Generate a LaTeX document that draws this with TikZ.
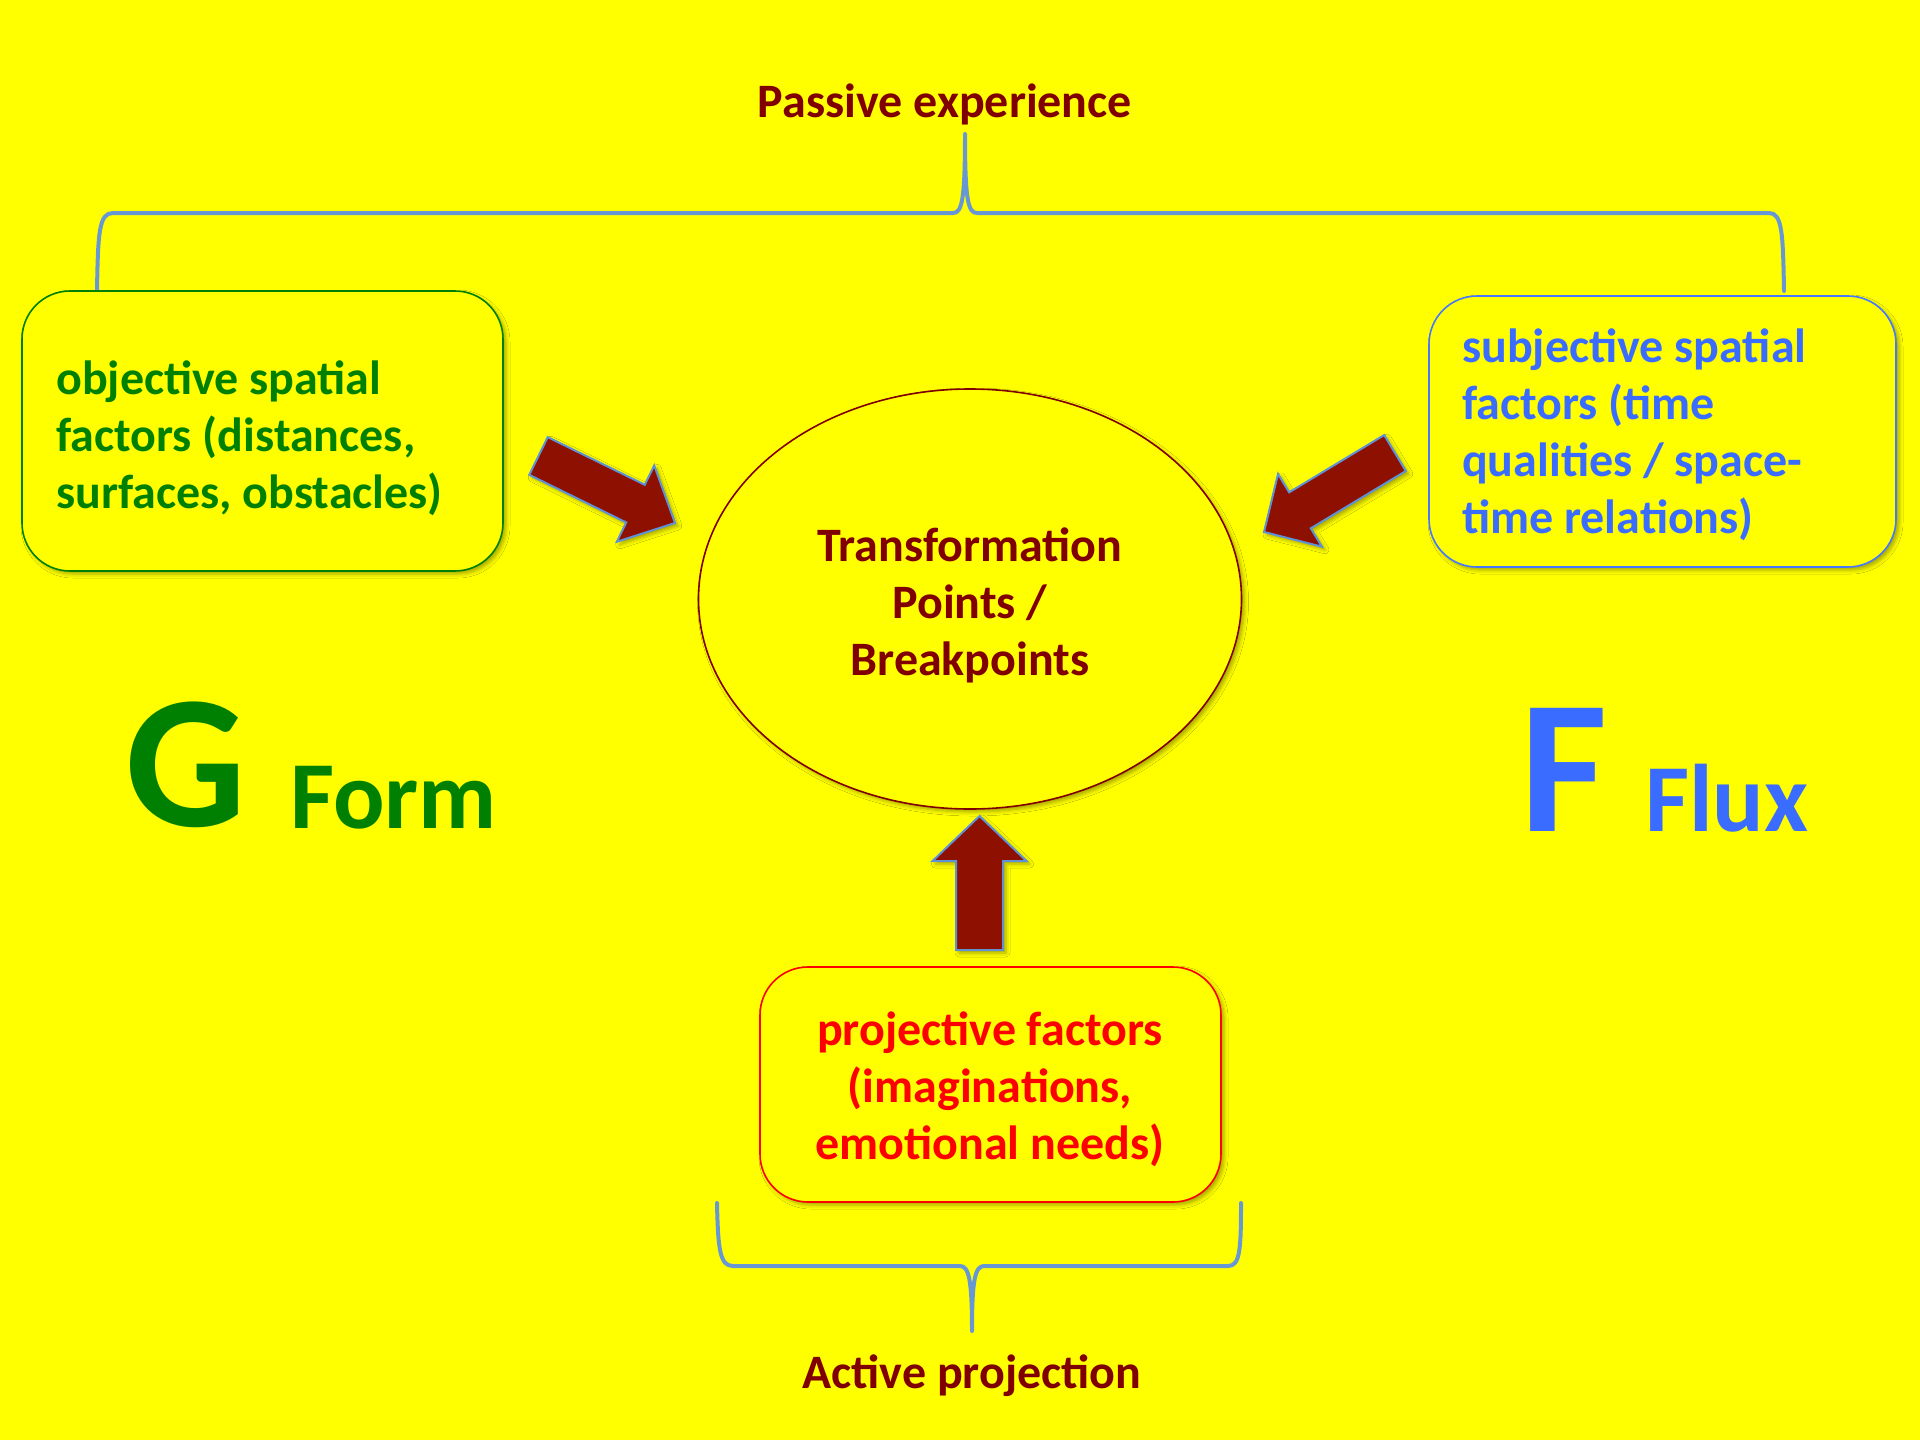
\documentclass[tikz,border=0pt]{standalone}
\usepackage{fontspec}
\setmainfont{Carlito}
\usetikzlibrary{calc,shapes.geometric,shadows.blur}
\definecolor{bg}{RGB}{255,255,0}
\definecolor{darkred}{RGB}{128,0,0}
\definecolor{arrowred}{RGB}{142,16,0}
\definecolor{formgreen}{RGB}{0,128,0}
\definecolor{fluxblue}{RGB}{58,108,255}
\definecolor{boxblue}{RGB}{70,120,255}
\definecolor{projred}{RGB}{255,0,0}
\definecolor{braceblue}{RGB}{104,152,212}
\definecolor{arrowedge}{RGB}{95,145,215}
\tikzset{
  softshadow/.style={blur shadow={shadow xshift=3pt, shadow yshift=-3pt, shadow blur radius=4pt, shadow opacity=35}},
  factorbox/.style={draw, line width=1.6pt, fill=bg, rounded corners=48pt, softshadow},
  bodytext/.style={font=\fontsize{48}{57}\selectfont\bfseries, inner sep=0pt},
  bracestyle/.style={draw=braceblue, line width=4pt, line cap=round, line join=round},
  fatarrowstyle/.style={fill=arrowred, draw=arrowedge, line width=2pt, line join=miter, softshadow},
}
\newcommand\fatarrowpath[5]{%
  \path ($(#2)!#5!(#1)$) coordinate (#2-hb);
  \filldraw[fatarrowstyle] ($(#1)!#3/2!90:(#2)$) -- ($(#2-hb)!#3/2!90:(#2)$) -- ($(#2-hb)!#4/2!90:(#2)$) -- (#2) -- ($(#2-hb)!#4/2!-90:(#2)$) -- ($(#2-hb)!#3/2!-90:(#2)$) -- ($(#1)!#3/2!-90:(#2)$) -- cycle;
}
\begin{document}
\begin{tikzpicture}[x=1pt,y=-1pt]
\useasboundingbox (0,0) rectangle (1920,1440);
\fill[bg] (0,0) rectangle (1920,1440);

% top brace
\draw[bracestyle] (97,291) .. controls (98,232) and (99,213) .. (113,213) -- (953,213)
  .. controls (962,213) and (965,200) .. (965,134)
  .. controls (965,200) and (968,213) .. (977,213) -- (1769,213)
  .. controls (1782,213) and (1783,232) .. (1784,291);
% bottom brace
\draw[bracestyle] (717,1203) .. controls (718,1250) and (720,1266) .. (733,1266) -- (960,1266)
  .. controls (969,1266) and (972,1280) .. (972,1331)
  .. controls (972,1280) and (975,1266) .. (984,1266) -- (1228,1266)
  .. controls (1240,1266) and (1241,1250) .. (1241,1203);

% boxes
\node[factorbox, draw=formgreen, minimum width=481pt, minimum height=280pt] (objbox) at (262.5,431) {};
\node[factorbox, draw=boxblue, minimum width=467pt, minimum height=271pt] (subbox) at (1662.5,431.5) {};
\node[factorbox, draw=projred, minimum width=461pt, minimum height=235pt] (probox) at (990.5,1084.5) {};
\node[ellipse, draw=darkred, line width=1.6pt, fill=bg, minimum width=543pt, minimum height=420pt, softshadow] (tp) at (970,599) {};

% box texts (base anchor = last line baseline)
\node[bodytext, text=formgreen, anchor=base west, align=left] (objtxt) at (56,508)
  {objective spatial\\factors (distances,\\surfaces, obstacles)};
\node[bodytext, text=fluxblue, anchor=base west, align=left] (subtxt) at (1462,533)
  {subjective spatial\\factors (time\\qualities / space-\\time relations)};
\node[bodytext, text=projred, anchor=base, align=center] (protxt) at (990,1159)
  {projective factors\\(imaginations,\\emotional needs)};
\node[bodytext, text=darkred, anchor=base, align=center] (tptxt) at (970,675)
  {Transformation\\Points /\\Breakpoints};

% titles
\node[bodytext, text=darkred, anchor=base] (passive) at (945,117) {Passive experience};
\node[bodytext, text=darkred, anchor=base] (active) at (972,1388) {Active projection};

% G Form / F Flux
\node[inner sep=0pt, anchor=base west, text=formgreen, font=\fontsize{190}{190}\selectfont\bfseries] (bigG) at (125,826) {G};
\node[inner sep=0pt, anchor=base west, text=formgreen, font=\fontsize{96}{96}\selectfont\bfseries] (form) at (290,828) {Form};
\node[inner sep=0pt, anchor=base west, text=fluxblue, font=\fontsize{190}{190}\selectfont\bfseries] (bigF) at (1520,831) {F};
\node[inner sep=0pt, anchor=base west, text=fluxblue, font=\fontsize{96}{96}\selectfont\bfseries] (flux) at (1645,831) {Flux};

% fat arrows
\coordinate (la-tail) at (538.5,456);
\coordinate (la-head) at (675,523);
\coordinate (ra-tail) at (1395,453);
\coordinate (ra-head) at (1264,532);
\coordinate (ua-tail) at (979.5,950);
\coordinate (ua-head) at (979.5,816);
\fatarrowpath{la-tail}{la-head}{42pt}{85pt}{44pt}
\fatarrowpath{ra-tail}{ra-head}{42pt}{85pt}{42pt}
\fatarrowpath{ua-tail}{ua-head}{47pt}{94pt}{45pt}
\end{tikzpicture}
\end{document}
